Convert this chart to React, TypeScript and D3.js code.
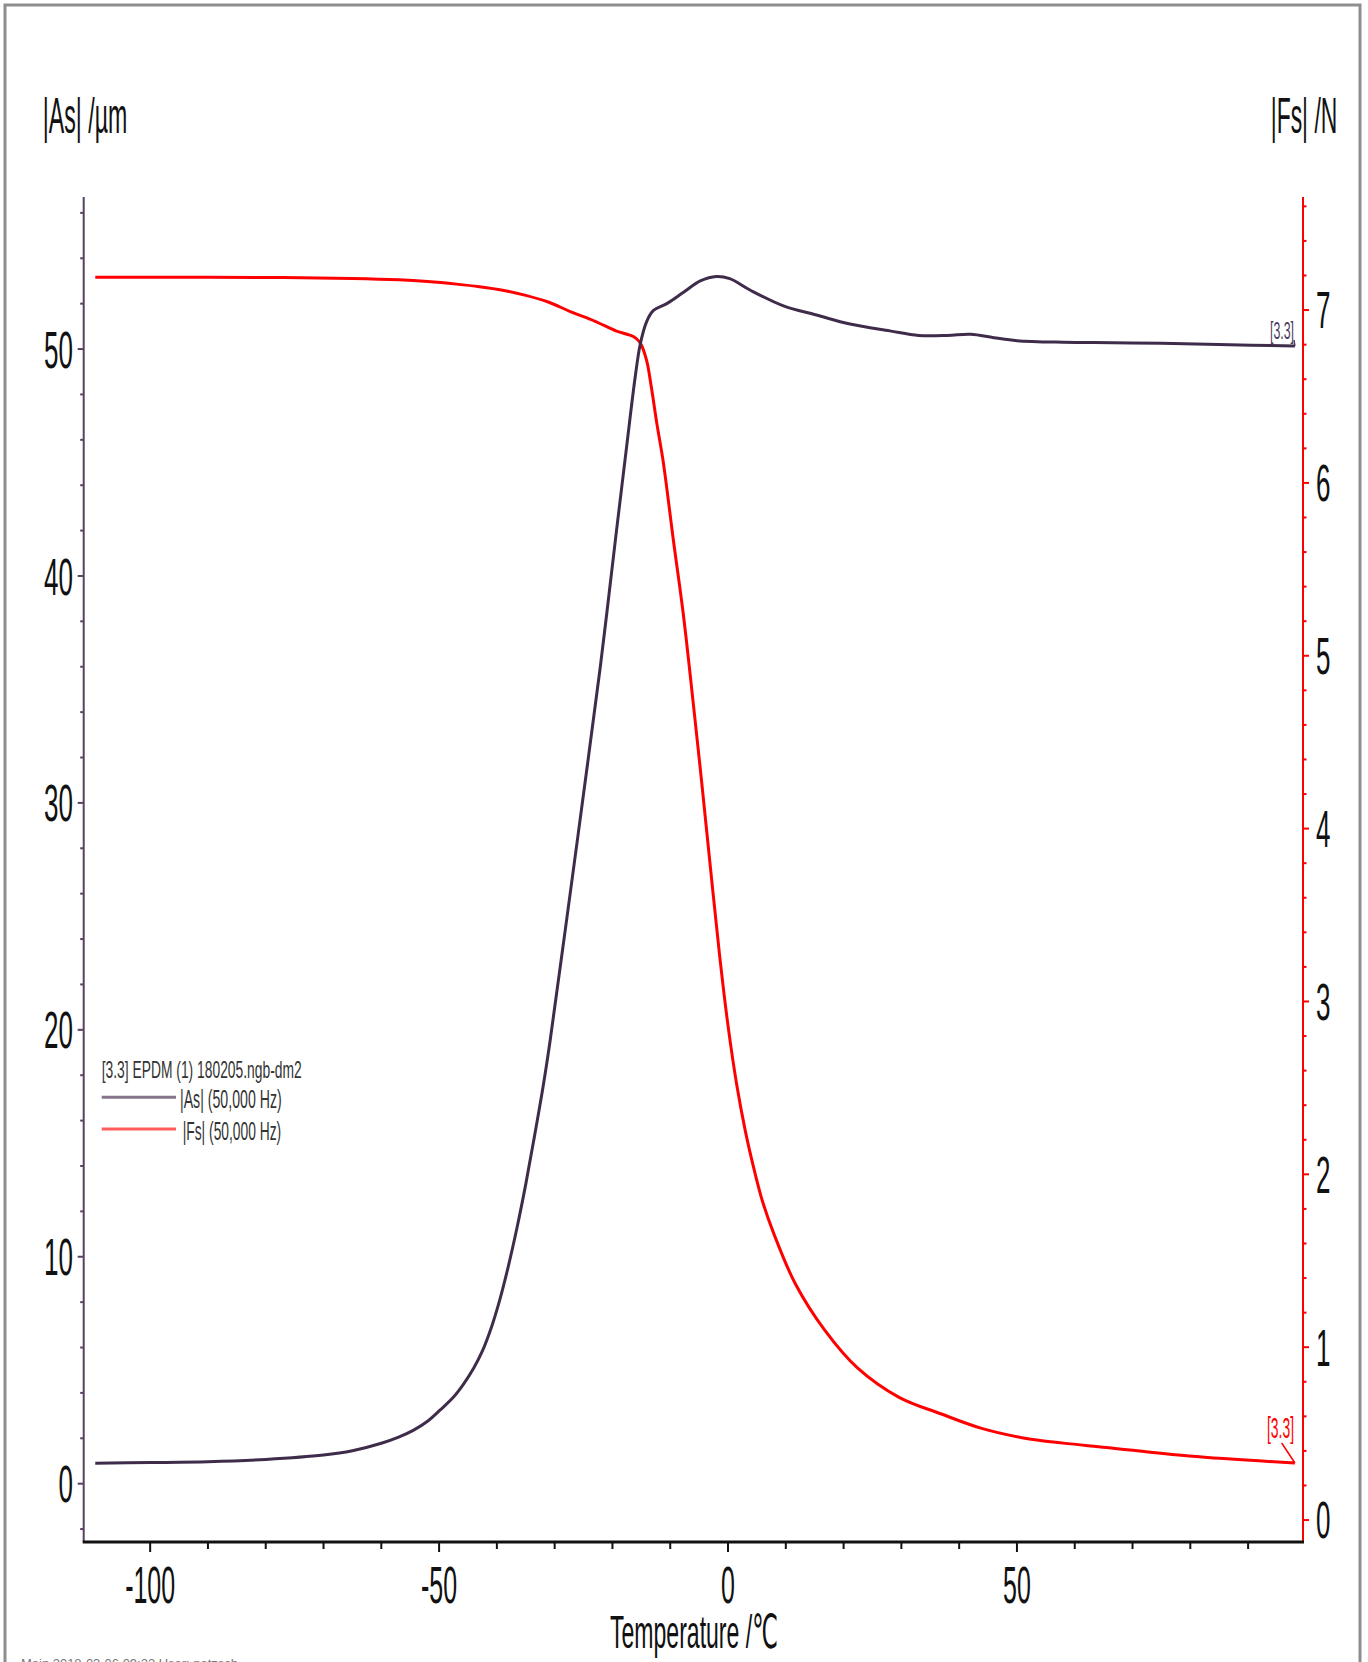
import React from "react";
import * as d3 from "d3";

// ---- Data ----
const AS_TEMP = [-109.5, -100, -90, -80, -70, -65, -60, -57, -54.4, -52, -49.8, -47.5, -45.8, -44, -42.5, -41, -39.5, -38, -36.5, -35, -33.5, -32, -30.8, -29.4, -27.9, -25, -22.1, -19.3, -17.5, -16.1, -15.2, -14.1, -12.9, -10.6, -7.7, -4.8, -2, 0.3, 3.8, 9.6, 15.3, 21.1, 28, 33, 38, 42, 46, 50, 58, 66.6, 75, 84.9, 98.1];
const AS_VALUES = [0.9, 0.93, 0.97, 1.07, 1.26, 1.45, 1.78, 2.05, 2.36, 2.75, 3.25, 3.82, 4.38, 5.1, 5.85, 6.85, 8.1, 9.6, 11.3, 13.2, 15.3, 17.5, 19.5, 22.1, 24.9, 30.4, 36.0, 42.0, 45.8, 48.7, 50.2, 51.2, 51.7, 52.0, 52.5, 53.0, 53.2, 53.1, 52.6, 51.9, 51.5, 51.1, 50.8, 50.6, 50.6, 50.65, 50.5, 50.37, 50.3, 50.28, 50.25, 50.2, 50.13];

const FS_TEMP = [-109.5, -90, -77, -65, -57, -52, -47, -43, -39, -35, -31, -27.2, -23, -19.4, -17.5, -16.3, -15.2, -14.1, -13.3, -12.3, -11.2, -9.5, -7.7, -6, -4.5, -3, -1.5, 0, 1.5, 3, 4.5, 6, 8, 11.6, 16.7, 22.4, 29.6, 36.8, 43.9, 51.1, 58, 65.5, 79.8, 98.1];
const FS_VALUES = [7.19, 7.19, 7.188, 7.183, 7.175, 7.165, 7.15, 7.135, 7.115, 7.085, 7.045, 6.99, 6.935, 6.88, 6.86, 6.845, 6.81, 6.71, 6.56, 6.34, 6.12, 5.68, 5.23, 4.72, 4.25, 3.76, 3.28, 2.86, 2.52, 2.25, 2.03, 1.84, 1.65, 1.37, 1.1, 0.88, 0.71, 0.615, 0.53, 0.475, 0.445, 0.42, 0.37, 0.33];

const X_MAJOR = [-100, -50, 0, 50];
const X_MINOR = [-100, -90, -80, -70, -60, -50, -40, -30, -20, -10, 0, 10, 20, 30, 40, 50, 60, 70, 80, 90];
const AS_MAJOR = [0, 10, 20, 30, 40, 50];
const FS_MAJOR = [0, 1, 2, 3, 4, 5, 6, 7];

const X_TITLE = "Temperature /℃";
const AS_TITLE = "|As| /µm";
const FS_TITLE = "|Fs| /N";
const LEGEND_TITLE = "[3.3] EPDM (1) 180205.ngb-dm2";
const LEGEND_AS = "|As| (50,000 Hz)";
const LEGEND_FS = "|Fs| (50,000 Hz)";
const CURVE_TAG = "[3.3]";

const W = 1368;
const H = 1662;
const FONT = "'Liberation Sans', Arial, 'DejaVu Sans', sans-serif";

const AS_COLOR = "#3f2c4a";
const AS_AXIS = "#5a3f62";
const FS_COLOR = "#ff0000";

function SText({ x, y, sx = 0.48, size = 52, anchor = "middle", fill = "#111", children }: any) {
  return (
    <text
      transform={`translate(${x},${y}) scale(${sx},1)`}
      textAnchor={anchor}
      fontSize={size}
      fontFamily={FONT}
      fill={fill}
    >
      {children}
    </text>
  );
}

export default function App() {
  const x = d3.scaleLinear().domain([-111.5, 99.5]).range([83.7, 1303]);
  const yA = d3.scaleLinear().domain([-2.57, 56.7]).range([1542, 197]);
  const yF = d3.scaleLinear().domain([-0.127, 7.654]).range([1542, 197]);

  const asPts = AS_TEMP.map((t, i) => [t, AS_VALUES[i]] as [number, number]);
  const fsPts = FS_TEMP.map((t, i) => [t, FS_VALUES[i]] as [number, number]);

  const lineA = d3
    .line<[number, number]>()
    .x((d) => x(d[0]))
    .y((d) => yA(d[1]))
    .curve(d3.curveCatmullRom.alpha(0.5));
  const lineF = d3
    .line<[number, number]>()
    .x((d) => x(d[0]))
    .y((d) => yF(d[1]))
    .curve(d3.curveCatmullRom.alpha(0.5));

  const asMinor = d3.range(-2, 57, 2);
  const fsMinor = d3.range(0, 7.61, 0.2);

  const x0 = x.range()[0];
  const x1 = x.range()[1];
  const yb = 1542;
  const yt = 197;

  const asEnd = asPts[asPts.length - 1];
  const fsEnd = fsPts[fsPts.length - 1];

  return (
    <svg
      width={W}
      height={H}
      style={{ position: "absolute", left: 0, top: 0, background: "#fff" }}
    >
      <rect x={0} y={0} width={W} height={H} fill="#fff" />
      {/* outer frame */}
      <rect x={5} y={5} width={1355} height={1700} fill="none" stroke="#8e8e8e" strokeWidth={3} />

      {/* axis titles */}
      <text x={42.7} y={132.5} fontSize={50} fontFamily={FONT} fill="#111" textLength={84.6} lengthAdjust="spacingAndGlyphs">
        {AS_TITLE}
      </text>
      <text x={1270.7} y={132.5} fontSize={50} fontFamily={FONT} fill="#111" textLength={66.6} lengthAdjust="spacingAndGlyphs">
        {FS_TITLE}
      </text>
      <text x={610} y={1648} fontSize={47} fontFamily={FONT} fill="#111" textLength={168} lengthAdjust="spacingAndGlyphs">
        {X_TITLE}
      </text>

      {/* left axis */}
      <line x1={x0} x2={x0} y1={yt} y2={yb} stroke={AS_AXIS} strokeWidth={2} />
      {asMinor.map((v) => {
        const major = AS_MAJOR.includes(v);
        return (
          <line key={"am" + v} x1={x0 - (major ? 6 : 3.5)} x2={x0} y1={yA(v)} y2={yA(v)} stroke={AS_AXIS} strokeWidth={2} />
        );
      })}
      {AS_MAJOR.map((v) => (
        <SText key={"al" + v} x={73} y={yA(v) + 18.6} anchor="end" sx={0.5}>
          {v}
        </SText>
      ))}

      {/* right axis */}
      <line x1={x1} x2={x1} y1={yt} y2={yb} stroke={FS_COLOR} strokeWidth={2} />
      {fsMinor.map((v) => {
        const major = Math.abs(v - Math.round(v)) < 1e-6;
        return (
          <line key={"fm" + v.toFixed(1)} x1={x1} x2={x1 + (major ? 6 : 3.5)} y1={yF(v)} y2={yF(v)} stroke={FS_COLOR} strokeWidth={2} />
        );
      })}
      {FS_MAJOR.map((v) => (
        <SText key={"fl" + v} x={1316} y={yF(v) + 18.4} anchor="start" sx={0.5}>
          {v}
        </SText>
      ))}

      {/* x axis */}
      {X_MINOR.map((t) => {
        const major = X_MAJOR.includes(t);
        return (
          <line key={"xm" + t} x1={x(t)} x2={x(t)} y1={yb} y2={yb + (major ? 10 : 7)} stroke="#111" strokeWidth={2} />
        );
      })}
      <line x1={x0 - 1} x2={x1 + 1} y1={yb} y2={yb} stroke="#111" strokeWidth={3} />
      {X_MAJOR.map((t) => (
        <SText key={"xl" + t} x={x(t)} y={1603} anchor="middle" sx={0.48}>
          {t}
        </SText>
      ))}

      {/* curves */}
      <path d={lineF(fsPts) || ""} fill="none" stroke={FS_COLOR} strokeWidth={3} strokeLinejoin="round" />
      <path d={lineA(asPts) || ""} fill="none" stroke={AS_COLOR} strokeWidth={3} strokeLinejoin="round" />

      {/* curve end tags */}
      <text x={1270} y={339} fontSize={23} fontFamily={FONT} fill="#4a3a5c" textLength={24} lengthAdjust="spacingAndGlyphs">
        {CURVE_TAG}
      </text>
      <line x1={1294} x2={x(asEnd[0])} y1={340} y2={yA(asEnd[1])} stroke="#4a3a5c" strokeWidth={1.5} />
      <text x={1267} y={1438} fontSize={30} fontFamily={FONT} fill={FS_COLOR} textLength={27} lengthAdjust="spacingAndGlyphs">
        {CURVE_TAG}
      </text>
      <line x1={1281.7} x2={x(fsEnd[0])} y1={1443} y2={yF(fsEnd[1])} stroke={FS_COLOR} strokeWidth={1.5} />

      {/* legend */}
      <text x={101.7} y={1077.7} fontSize={24} fontFamily={FONT} fill="#333" textLength={200} lengthAdjust="spacingAndGlyphs">
        {LEGEND_TITLE}
      </text>
      <line x1={101.7} x2={176} y1={1097.3} y2={1097.3} stroke="#85748a" strokeWidth={3} />
      <text x={180} y={1107.5} fontSize={25} fontFamily={FONT} fill="#333" textLength={101.7} lengthAdjust="spacingAndGlyphs">
        {LEGEND_AS}
      </text>
      <line x1={101.7} x2={176} y1={1129} y2={1129} stroke="#ff5c5c" strokeWidth={3} />
      <text x={182.7} y={1139.5} fontSize={25} fontFamily={FONT} fill="#333" textLength={98.5} lengthAdjust="spacingAndGlyphs">
        {LEGEND_FS}
      </text>

      {/* footer (cut off at bottom) */}
      <text x={21} y={1668} fontSize={12} fontFamily={FONT} fill="#777" textLength={217} lengthAdjust="spacingAndGlyphs">
        Main    2018-03-06 09:22    User: netzsch
      </text>
    </svg>
  );
}
